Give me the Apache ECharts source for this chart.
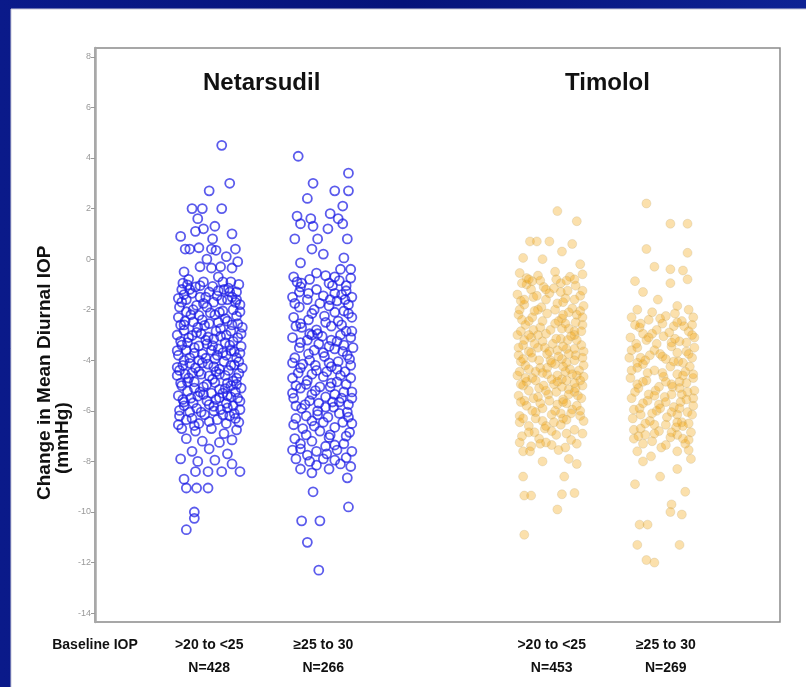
<!DOCTYPE html>
<html>
<head>
<meta charset="utf-8">
<script src="https://cdn.jsdelivr.net/npm/echarts@6/dist/echarts.min.js"></script>
<style>
  html, body { margin: 0; padding: 0; }
  #main { width: 806px; height: 687px; }
</style>
</head>
<body>
<div id="main"></div>
<script>
// group positions on the x scale and their labels
var groupCenters = [1, 2, 4, 5];
var doseLabels = ['>20 to <25', '\u226525 to 30', '>20 to <25', '\u226525 to 30'];
var nLabels = ['N=428', 'N=266', 'N=453', 'N=269'];
var yTicks = [-14, -12, -10, -8, -6, -4, -2, 0, 2, 4, 6, 8];

// each point: [horizontal jitter, change in mean diurnal IOP (mmHg)]
var netLow = [
  [0.11,4.5],[0.18,3.0],[0.0,2.7],[-0.15,2.0],[-0.06,2.0],[0.11,2.0],[-0.1,1.6],[-0.12,1.1],[-0.05,1.2],[0.05,1.3],
  [0.03,0.8],[0.2,1.0],[-0.25,0.9],[-0.21,0.4],[-0.17,0.4],[-0.09,0.45],[0.02,0.4],[0.06,0.35],[0.23,0.4],[0.15,0.1],
  [-0.02,0.0],[0.25,-0.1],[-0.22,-0.5],[-0.08,-0.3],[0.02,-0.35],[0.1,-0.3],[0.2,-0.35],
  [-0.18,-0.8],[-0.05,-0.9],[0.08,-0.7],[0.19,-0.9],[-0.24,-1.2],[-0.12,-1.1],[0.0,-1.3],[0.13,-1.2],[0.24,-1.3],
  [-0.2,-1.6],[-0.08,-1.5],[0.04,-1.7],[0.16,-1.6],[0.27,-1.8],[-0.26,-1.9],[-0.14,-2.0],[-0.02,-1.9],[0.09,-2.1],[0.21,-2.0],
  [-0.15,-1.35],[0.07,-1.45],[0.2,-1.5],[-0.05,-1.75],[-0.22,-1.4],
  [-0.27,-2.3],[-0.16,-2.2],[-0.06,-2.4],[0.05,-2.2],[0.14,-2.35],[0.24,-2.25],
  [-0.22,-2.6],[-0.1,-2.7],[0.0,-2.55],[0.1,-2.75],[0.2,-2.6],[0.29,-2.7],
  [-0.28,-3.0],[-0.18,-3.1],[-0.07,-2.95],[0.04,-3.15],[0.15,-3.0],[0.25,-3.1],
  [-0.24,-3.4],[-0.13,-3.5],[-0.02,-3.35],[0.08,-3.55],[0.18,-3.4],[0.28,-3.45],
  [-0.27,-3.8],[-0.17,-3.9],[-0.06,-3.75],[0.05,-3.95],[0.15,-3.8],[0.24,-3.9],
  [-0.23,-4.2],[-0.12,-4.3],[-0.01,-4.15],[0.09,-4.35],[0.19,-4.2],[0.29,-4.3],
  [-0.28,-4.6],[-0.18,-4.7],[-0.07,-4.55],[0.03,-4.75],[0.14,-4.6],[0.24,-4.7],
  [-0.24,-5.0],[-0.13,-5.1],[-0.02,-4.95],[0.09,-5.15],[0.19,-5.0],[0.28,-5.1],
  [-0.27,-5.4],[-0.16,-5.5],[-0.05,-5.35],[0.06,-5.55],[0.16,-5.4],[0.25,-5.5],
  [-0.22,-5.8],[-0.11,-5.9],[0.0,-5.75],[0.1,-5.95],[0.21,-5.8],
  [-0.26,-6.2],[-0.15,-6.3],[-0.04,-6.15],[0.07,-6.35],[0.18,-6.2],
  [-0.21,-2.45],[-0.11,-2.9],[0.08,-2.5],[0.19,-2.85],[-0.25,-3.25],[-0.03,-3.2],[0.12,-3.7],[0.22,-3.65],[-0.2,-3.6],
  [-0.09,-4.0],[0.02,-3.6],[0.26,-4.05],[-0.26,-4.4],[-0.15,-4.5],[0.06,-4.45],[0.16,-4.9],[-0.19,-4.85],[-0.08,-5.25],
  [0.12,-5.3],[0.23,-5.25],[-0.22,-5.65],[-0.02,-5.6],[0.15,-5.7],[0.27,-5.95],[-0.17,-6.05],[0.04,-6.0],[0.26,-6.45],[-0.09,-6.5],
  [-0.19,-1.02],[0.03,-1.08],[0.17,-1.15],[-0.27,-1.55],[0.11,-1.62],[-0.11,-1.83],[0.23,-1.71],[-0.2,-2.08],[0.01,-2.12],[0.27,-2.08],
  [-0.09,-2.22],[0.12,-2.05],[-0.25,-2.6],[-0.04,-2.62],[0.16,-2.45],[0.25,-2.55],[-0.14,-2.48],[0.06,-2.85],[-0.22,-2.82],[0.28,-2.95],
  [-0.15,-3.02],[0.1,-3.05],[-0.01,-3.08],[0.21,-3.25],[-0.19,-3.3],[-0.09,-3.43],[0.14,-3.3],[0.03,-3.42],[-0.28,-3.62],[-0.13,-3.72],
  [0.07,-3.8],[0.19,-3.62],[-0.03,-3.92],[0.27,-3.72],[-0.22,-4.0],[-0.06,-4.1],[0.13,-4.05],[0.22,-4.18],[-0.17,-4.12],[0.04,-4.25],
  [-0.28,-4.28],[-0.09,-4.45],[0.17,-4.4],[0.26,-4.52],[-0.21,-4.55],[0.0,-4.62],[0.09,-4.55],[-0.13,-4.85],[0.05,-4.88],[0.21,-4.82],
  [-0.25,-4.9],[-0.05,-5.05],[0.14,-5.12],[0.24,-4.95],[-0.19,-5.22],[0.02,-5.3],[-0.1,-5.42],[0.19,-5.45],[-0.23,-5.55],[0.09,-5.48],
  [0.27,-5.62],[-0.14,-5.68],[0.04,-5.82],[-0.26,-5.98],[0.16,-5.88],[-0.07,-6.05],[0.22,-6.1],[0.12,-6.15],[-0.2,-6.35],[0.0,-6.42],
  [0.15,-6.5],[-0.13,-6.58],[0.23,-6.3],[-0.27,-6.55],
  [-0.23,-0.95],[-0.08,-1.05],[0.12,-0.9],[0.26,-1.0],[-0.17,-1.2],[0.08,-1.25],[-0.03,-1.5],[0.18,-1.3],[0.24,-1.6],[-0.24,-1.7],
  [-0.24,-6.7],[-0.12,-6.8],[0.02,-6.7],[0.13,-6.9],[0.24,-6.75],[-0.2,-7.1],[-0.06,-7.2],[0.09,-7.25],[0.2,-7.15],
  [-0.15,-7.6],[0.0,-7.5],[0.16,-7.7],[-0.25,-7.9],[-0.1,-8.0],[0.05,-7.95],[0.2,-8.1],
  [-0.12,-8.4],[-0.01,-8.4],[0.11,-8.4],[0.27,-8.4],[-0.22,-8.7],
  [-0.2,-9.05],[-0.11,-9.05],[-0.01,-9.05],[-0.13,-10.0],[-0.13,-10.25],[-0.2,-10.7]
];

var netHigh = [
  [-0.22,4.07],[0.22,3.4],[-0.09,3.0],[0.1,2.7],[0.22,2.7],[-0.14,2.4],[0.17,2.1],[-0.23,1.7],[-0.11,1.6],[0.06,1.8],
  [0.13,1.6],[-0.2,1.4],[-0.09,1.3],[0.04,1.2],[0.17,1.4],[-0.05,0.8],[0.21,0.8],[-0.25,0.8],[-0.1,0.4],[0.0,0.2],
  [0.18,0.05],[-0.2,-0.15],[0.15,-0.4],[0.24,-0.4],
  [-0.26,-0.7],[-0.12,-0.8],[0.02,-0.65],[0.14,-0.85],[0.24,-0.75],
  [-0.2,-1.1],[-0.06,-1.2],[0.08,-1.05],[0.2,-1.25],
  [-0.27,-1.5],[-0.14,-1.6],[0.0,-1.45],[0.12,-1.65],[0.25,-1.5],
  [-0.21,-1.9],[-0.08,-2.0],[0.05,-1.85],[0.18,-2.05],
  [-0.26,-2.3],[-0.13,-2.4],[0.01,-2.25],[0.13,-2.45],[0.25,-2.3],
  [-0.19,-2.7],[-0.06,-2.8],[0.07,-2.65],[0.2,-2.85],
  [-0.27,-3.1],[-0.14,-3.2],[-0.01,-3.05],[0.12,-3.25],[0.24,-3.1],
  [-0.21,-3.5],[-0.08,-3.6],[0.05,-3.45],[0.17,-3.65],[0.26,-3.5],
  [-0.25,-3.9],[-0.12,-4.0],[0.01,-3.85],[0.13,-4.05],[0.23,-3.95],
  [-0.2,-4.3],[-0.06,-4.4],[0.07,-4.25],[0.19,-4.45],
  [-0.27,-4.7],[-0.14,-4.8],[0.0,-4.65],[0.12,-4.85],[0.24,-4.7],
  [-0.2,-5.1],[-0.07,-5.2],[0.06,-5.05],[0.18,-5.25],
  [-0.26,-5.5],[-0.12,-5.6],[0.02,-5.45],[0.14,-5.65],[0.25,-5.5],
  [-0.19,-5.9],[-0.05,-6.0],[0.09,-5.85],[0.21,-6.05],
  [-0.24,-6.3],[-0.1,-6.4],[0.04,-6.25],[0.17,-6.45],
  [-0.18,-6.7],[-0.03,-6.8],[0.1,-6.65],[0.23,-6.85],
  [-0.25,-7.1],[-0.1,-7.2],[0.05,-7.05],[0.18,-7.3],
  [-0.2,-7.5],[-0.06,-7.6],[0.12,-7.55],
  [-0.24,-7.9],[-0.12,-8.0],[0.0,-7.9],[0.1,-7.95],[0.2,-7.85],
  [-0.19,-0.95],[0.1,-1.35],[-0.03,-1.75],[0.22,-1.8],[-0.2,-2.55],[0.1,-2.1],[-0.12,-2.95],[0.15,-3.0],[-0.04,-3.35],
  [0.21,-3.8],[-0.18,-4.15],[0.05,-4.1],[-0.1,-4.55],[0.15,-4.6],[-0.24,-5.0],[0.1,-5.35],[-0.16,-5.75],[0.22,-5.75],
  [-0.05,-6.15],[0.25,-6.5],[-0.15,-6.95],[0.02,-7.4],
  [-0.23,-0.9],[0.05,-0.95],[0.2,-1.05],[-0.13,-1.35],[0.16,-1.4],[-0.25,-1.75],[0.06,-1.6],[-0.1,-2.15],[0.22,-2.15],[0.02,-2.5],
  [-0.24,-2.65],[0.16,-2.6],[-0.05,-2.95],[0.25,-2.85],[-0.2,-3.3],[0.07,-3.2],[0.18,-3.4],[-0.13,-3.75],[0.0,-3.7],[0.1,-3.55],
  [-0.27,-4.1],[-0.07,-4.2],[0.24,-4.2],[0.12,-4.35],[-0.22,-4.5],[0.03,-4.45],[-0.15,-4.95],[0.07,-4.9],[0.2,-4.95],[-0.03,-5.05],
  [-0.27,-5.3],[-0.1,-5.35],[0.16,-5.5],[0.25,-5.25],[-0.04,-5.7],[0.08,-5.65],[-0.24,-5.8],[0.14,-6.1],[-0.15,-6.2],[0.0,-6.45],
  [-0.26,-6.55],[0.22,-6.25],[0.06,-6.95],[-0.08,-6.6],[0.2,-7.0],[-0.2,-7.3],[0.1,-7.35],[0.25,-7.6],[-0.14,-7.75],[0.03,-7.7],
  [-0.27,-7.55],[0.15,-8.1],[-0.06,-8.15],[0.24,-8.2],[-0.21,-1.3],[0.1,-0.7],[-0.06,-0.55],[0.19,-1.6],[-0.1,-3.0],[0.02,-5.85],
  [-0.2,-8.3],[0.05,-8.3],[-0.1,-8.45],
  [0.21,-8.65],[-0.09,-9.2],[0.22,-9.8],[-0.19,-10.35],[-0.03,-10.35],[-0.14,-11.2],[-0.04,-12.3]
];

var timLow = [
  [0.05,1.9],[0.22,1.5],[-0.19,0.7],[-0.13,0.7],[-0.02,0.7],[0.18,0.6],[-0.25,0.05],[0.09,0.3],[-0.08,0.0],[0.25,-0.2],
  [-0.22,-0.75],[-0.17,-0.87],
  [-0.28,-0.55],[-0.12,-0.65],[0.03,-0.5],[0.16,-0.7],[0.27,-0.6],
  [-0.22,-1.0],[-0.07,-1.1],[0.08,-0.95],[0.21,-1.05],
  [-0.3,-1.4],[-0.16,-1.5],[-0.02,-1.35],[0.12,-1.55],[0.25,-1.45],
  [-0.24,-1.8],[-0.09,-1.9],[0.05,-1.75],[0.18,-1.95],[0.28,-1.85],
  [-0.29,-2.2],[-0.17,-2.3],[-0.04,-2.15],[0.09,-2.35],[0.22,-2.2],
  [-0.23,-2.6],[-0.1,-2.7],[0.03,-2.55],[0.15,-2.75],[0.27,-2.6],
  [-0.3,-3.0],[-0.18,-3.1],[-0.05,-2.95],[0.08,-3.15],[0.2,-3.0],
  [-0.25,-3.4],[-0.12,-3.5],[0.01,-3.35],[0.13,-3.55],[0.26,-3.4],
  [-0.29,-3.8],[-0.17,-3.9],[-0.04,-3.75],[0.09,-3.95],[0.21,-3.8],
  [-0.23,-4.2],[-0.1,-4.3],[0.03,-4.15],[0.16,-4.35],[0.28,-4.2],
  [-0.3,-4.6],[-0.17,-4.7],[-0.04,-4.55],[0.09,-4.75],[0.22,-4.6],
  [-0.25,-5.0],[-0.11,-5.1],[0.02,-4.95],[0.15,-5.15],[0.27,-5.0],
  [-0.29,-5.4],[-0.16,-5.5],[-0.03,-5.35],[0.1,-5.55],[0.23,-5.4],
  [-0.22,-5.8],[-0.08,-5.9],[0.05,-5.75],[0.18,-5.95],
  [-0.28,-6.2],[-0.14,-6.3],[0.0,-6.15],[0.13,-6.35],[0.25,-6.2],
  [-0.2,-6.6],[-0.06,-6.7],[0.08,-6.55],[0.2,-6.75],
  [-0.26,-7.0],[-0.11,-7.1],[0.04,-6.95],[0.17,-7.15],
  [-0.18,-7.4],[0.0,-7.35],[0.12,-7.45],
  [-0.2,-0.8],[0.13,-0.85],[-0.05,-1.2],[0.27,-1.25],[-0.27,-1.65],[0.1,-1.7],[-0.12,-2.0],[0.25,-2.05],[-0.2,-2.45],
  [0.06,-2.45],[-0.27,-2.85],[0.2,-2.85],[-0.08,-3.25],[0.14,-3.2],[-0.2,-3.65],[0.05,-3.6],[0.28,-3.65],[-0.27,-4.05],
  [-0.01,-4.0],[0.2,-4.0],[-0.14,-4.45],[0.12,-4.45],[-0.22,-4.85],[0.05,-4.85],[0.25,-4.8],[-0.05,-5.2],[0.2,-5.25],
  [-0.24,-5.6],[0.1,-5.65],[-0.14,-6.05],[0.25,-6.0],[-0.28,-6.45],[0.02,-6.45],[-0.15,-6.85],[0.27,-6.9],[-0.05,-7.25],
  [-0.26,-0.95],[-0.1,-0.85],[0.04,-0.8],[0.2,-0.8],[-0.18,-1.2],[0.14,-1.25],[0.02,-1.15],[-0.24,-1.6],[-0.05,-1.6],[0.2,-1.6],
  [-0.15,-2.05],[0.03,-2.0],[0.15,-2.1],[0.27,-2.3],[-0.26,-2.4],[-0.08,-2.45],[0.12,-2.55],[0.21,-2.5],[-0.16,-2.8],[-0.01,-2.8],
  [0.09,-2.75],[0.26,-2.85],[-0.24,-3.2],[-0.12,-3.0],[0.04,-3.15],[0.22,-3.2],[-0.29,-3.5],[-0.06,-3.5],[0.1,-3.45],[0.2,-3.55],
  [-0.18,-3.7],[-0.02,-3.65],[0.15,-3.75],[0.27,-3.9],[-0.25,-3.95],[-0.11,-4.0],[0.06,-3.85],[0.13,-4.1],[-0.2,-4.35],[-0.04,-4.3],
  [0.1,-4.25],[0.24,-4.4],[-0.28,-4.45],[-0.08,-4.5],[0.05,-4.6],[0.18,-4.55],[-0.14,-4.8],[0.0,-4.75],[0.13,-4.8],[0.28,-4.65],
  [-0.27,-4.95],[-0.07,-5.0],[0.09,-5.05],[0.21,-5.1],[-0.2,-5.2],[0.04,-5.25],[0.15,-5.35],[-0.12,-5.45],[0.26,-5.5],[-0.27,-5.65],
  [-0.02,-5.6],[0.13,-5.7],[0.22,-5.8],[-0.17,-6.0],[0.03,-6.0],[0.17,-6.1],[-0.25,-6.3],[-0.08,-6.4],[0.1,-6.3],[0.28,-6.4],
  [-0.2,-6.85],[0.0,-6.8],[0.13,-6.9],[-0.1,-7.3],[0.22,-7.3],[-0.28,-7.25],[0.06,-7.55],
  [-0.13,-1.45],[0.08,-1.3],[-0.28,-2.0],[0.1,-2.2],[-0.2,-3.0],[0.17,-3.05],[-0.15,-3.35],[0.0,-4.1],[-0.23,-4.7],[0.2,-4.9],
  [-0.1,-5.7],[0.08,-6.1],[-0.05,-6.6],
  [-0.25,-7.6],[-0.19,-7.6],[0.15,-7.9],[-0.08,-8.0],[0.22,-8.1],[-0.25,-8.6],[0.11,-8.6],
  [-0.24,-9.35],[-0.18,-9.35],[0.09,-9.3],[0.2,-9.25],[0.05,-9.9],[-0.24,-10.9]
];

var timHigh = [
  [-0.17,2.2],[0.04,1.4],[0.19,1.4],[-0.17,0.4],[0.19,0.25],[-0.1,-0.3],[0.04,-0.4],[0.15,-0.45],[-0.27,-0.87],[0.04,-0.95],
  [-0.2,-1.3],[0.19,-0.8],[-0.07,-1.6],[0.1,-1.85],[-0.25,-2.0],
  [-0.3,-2.3],[-0.15,-2.4],[0.0,-2.25],[0.14,-2.45],[0.24,-2.3],
  [-0.23,-2.7],[-0.08,-2.8],[0.07,-2.65],[0.2,-2.85],
  [-0.31,-3.1],[-0.17,-3.2],[-0.02,-3.05],[0.12,-3.25],[0.25,-3.1],
  [-0.25,-3.5],[-0.1,-3.6],[0.05,-3.45],[0.18,-3.65],
  [-0.32,-3.9],[-0.18,-4.0],[-0.03,-3.85],[0.11,-4.05],[0.23,-3.9],
  [-0.25,-4.3],[-0.1,-4.4],[0.04,-4.25],[0.17,-4.45],
  [-0.31,-4.7],[-0.17,-4.8],[-0.02,-4.65],[0.12,-4.85],[0.24,-4.7],
  [-0.24,-5.1],[-0.09,-5.2],[0.06,-5.05],[0.19,-5.25],
  [-0.3,-5.5],[-0.16,-5.6],[-0.01,-5.45],[0.13,-5.65],[0.24,-5.5],
  [-0.23,-5.9],[-0.08,-6.0],[0.07,-5.85],[0.19,-6.05],
  [-0.29,-6.3],[-0.14,-6.4],[0.01,-6.25],[0.14,-6.45],
  [-0.22,-6.7],[-0.06,-6.8],[0.09,-6.65],[0.22,-6.85],
  [-0.28,-7.1],[-0.12,-7.2],[0.04,-7.05],[0.17,-7.3],
  [-0.22,-2.55],[0.1,-2.5],[-0.12,-2.95],[0.23,-3.0],[-0.26,-3.35],[0.05,-3.3],[-0.05,-3.75],[0.2,-3.75],[-0.2,-4.15],
  [0.15,-4.1],[-0.03,-4.5],[0.24,-4.55],[-0.25,-4.95],[0.05,-4.95],[-0.15,-5.35],[0.14,-5.35],[-0.06,-5.75],[0.24,-5.8],
  [-0.22,-6.15],[0.1,-6.15],[-0.1,-6.55],[0.2,-6.5],[-0.18,-6.95],[0.1,-6.95],[-0.04,-7.45],[0.2,-7.55],[-0.25,-7.6],
  [-0.12,-2.1],[0.08,-2.15],[0.2,-2.0],[-0.27,-2.6],[-0.03,-2.55],[0.16,-2.65],[-0.2,-2.95],[0.03,-2.9],[0.18,-3.3],[-0.08,-3.35],
  [-0.3,-3.6],[0.1,-3.7],[0.25,-3.5],[-0.14,-3.8],[0.0,-3.95],[-0.25,-4.1],[0.07,-4.05],[0.21,-4.25],[-0.16,-4.5],[0.1,-4.55],
  [-0.3,-4.4],[0.0,-4.85],[0.18,-4.9],[-0.2,-4.85],[-0.06,-5.05],[0.12,-5.1],[0.25,-5.2],[-0.27,-5.25],[-0.1,-5.4],[0.05,-5.35],
  [0.18,-5.55],[-0.2,-5.7],[0.0,-5.65],[0.12,-5.9],[-0.28,-5.95],[-0.12,-6.1],[0.05,-6.05],[0.23,-6.15],[-0.18,-6.5],[0.0,-6.55],
  [0.15,-6.6],[-0.28,-6.75],[-0.1,-6.9],[0.05,-6.85],[0.2,-7.15],[-0.2,-7.3],[0.0,-7.35],[0.1,-7.6],[-0.13,-7.8],[0.15,-7.1],
  [-0.05,-2.35],[0.23,-2.6],[-0.15,-3.1],[0.08,-3.15],[-0.22,-3.9],[0.15,-4.6],[-0.05,-5.9],[0.1,-6.45],[-0.24,-7.0],
  [-0.2,-8.0],[0.22,-7.9],[0.1,-8.3],[-0.05,-8.6],[-0.27,-8.9],[0.17,-9.2],[0.05,-9.7],[0.04,-10.0],[0.14,-10.1],
  [-0.23,-10.5],[-0.16,-10.5],[-0.25,-11.3],[0.12,-11.3],[-0.17,-11.9],[-0.1,-12.0]
];

function place(points, center) {
  return points.map(function (p) { return [center + p[0], p[1]]; });
}

var fontFamily = '"Liberation Sans", Arial, sans-serif';

var netStyle = {
  color: 'rgba(0,0,0,0)',
  borderColor: 'rgba(28,28,228,0.9)',
  borderWidth: 1.8
};
var timStyle = {
  color: 'rgba(242,164,8,0.42)',
  borderColor: 'rgba(185,165,115,0.3)',
  borderWidth: 1
};

var chart = echarts.init(document.getElementById('main'));

chart.setOption({
  animation: false,
  backgroundColor: {
    type: 'linear', x: 0, y: 0, x2: 1, y2: 0,
    colorStops: [
      { offset: 0, color: '#0a1a8a' },
      { offset: 0.5, color: '#06137a' },
      { offset: 1, color: '#0e2294' }
    ]
  },
  graphic: [
    {
      type: 'rect', z: -10, silent: true,
      shape: { x: 11, y: 9, width: 800, height: 690 },
      style: { fill: '#ffffff', stroke: '#c8c8d8', lineWidth: 1 }
    },
    {
      type: 'text', left: 203, top: 71,
      style: { text: 'Netarsudil', font: 'bold 24px ' + fontFamily, fill: '#111' }
    },
    {
      type: 'text', left: 565, top: 71,
      style: { text: 'Timolol', font: 'bold 24px ' + fontFamily, fill: '#111' }
    },
    {
      type: 'text', x: 45, y: 500, rotation: Math.PI / 2,
      style: {
        text: 'Change in Mean Diurnal IOP', font: 'bold 19px ' + fontFamily,
        fill: '#111', textAlign: 'left', textVerticalAlign: 'middle'
      }
    },
    {
      type: 'text', x: 63, y: 474, rotation: Math.PI / 2,
      style: {
        text: '(mmHg)', font: 'bold 19px ' + fontFamily,
        fill: '#111', textAlign: 'left', textVerticalAlign: 'middle'
      }
    }
  ],
  grid: {
    left: 95, right: 26, top: 48, bottom: 65,
    show: true, backgroundColor: '#fff',
    borderColor: '#8a8a8a', borderWidth: 1.5
  },
  xAxis: {
    type: 'value', min: 0, max: 6,
    axisLine: { show: false },
    axisTick: { show: false },
    splitLine: { show: false },
    axisLabel: {
      customValues: [0].concat(groupCenters),
      showMinLabel: true,
      hideOverlap: false,
      margin: 12,
      color: '#111',
      fontFamily: fontFamily,
      fontWeight: 'bold',
      fontSize: 14,
      lineHeight: 23,
      verticalAlign: 'top',
      formatter: function (v) {
        if (v === 0) return 'Baseline IOP\n ';
        var i = groupCenters.indexOf(v);
        return doseLabels[i] + '\n' + nLabels[i];
      }
    }
  },
  yAxis: {
    type: 'value', min: -14.35, max: 8.35,
    axisLine: { show: true, lineStyle: { color: '#a8a8a8', width: 2.5 } },
    axisTick: { show: true, customValues: yTicks, length: 4, lineStyle: { color: '#999' } },
    splitLine: { show: false },
    axisLabel: {
      customValues: yTicks,
      showMinLabel: true,
      showMaxLabel: true,
      color: '#999',
      fontFamily: fontFamily,
      fontSize: 9,
      margin: 4
    }
  },
  series: [
    { type: 'scatter', name: 'Netarsudil >20 to <25', data: place(netLow, groupCenters[0]), symbol: 'circle', symbolSize: 9, itemStyle: netStyle },
    { type: 'scatter', name: 'Netarsudil \u226525 to 30', data: place(netHigh, groupCenters[1]), symbol: 'circle', symbolSize: 9, itemStyle: netStyle },
    { type: 'scatter', name: 'Timolol >20 to <25', data: place(timLow, groupCenters[2]), symbol: 'circle', symbolSize: 9, itemStyle: timStyle },
    { type: 'scatter', name: 'Timolol \u226525 to 30', data: place(timHigh, groupCenters[3]), symbol: 'circle', symbolSize: 9, itemStyle: timStyle }
  ]
});
</script>
</body>
</html>
